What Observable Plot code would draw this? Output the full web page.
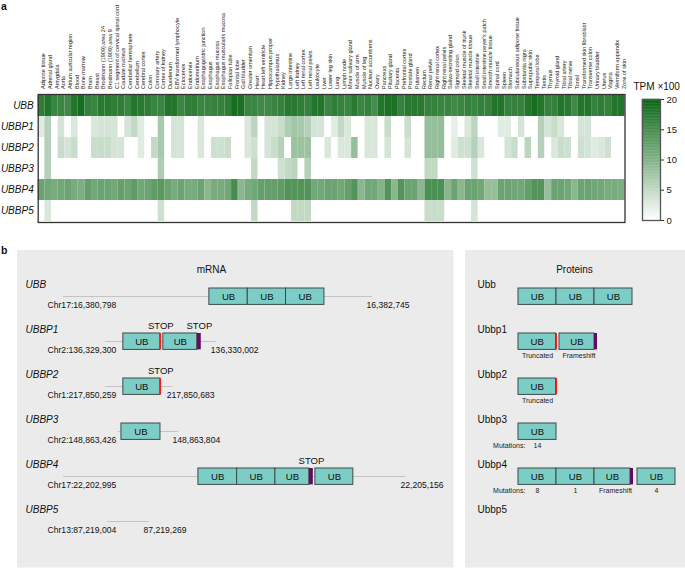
<!DOCTYPE html>
<html><head><meta charset="utf-8">
<script src="https://cdn.jsdelivr.net/npm/d3@7"></script>
<script src="https://cdn.jsdelivr.net/npm/@observablehq/plot@0.6"></script>
<style>
body{margin:0;background:#fff;}
#fig{position:relative;width:685px;height:568px;font-family:"Liberation Sans",Arial,sans-serif;overflow:hidden;background:#fff;}
#fig svg{position:absolute;}
.plab{position:absolute;font-weight:bold;font-size:10.5px;line-height:11px;color:#111;}
</style></head><body>
<div id="fig"></div>
<script>
// ---------- Panel a data ----------
const tissues = ["Adipose tissue","Adrenal gland","Amygdala","Aorta","Atrium auricular region","Blood","Bone marrow","Brain","Breast","Brodmann (1909) area 24","Brodmann (1909) area 9","C1 segment of cervical spinal cord","Caudate nucleus","Cerebellar hemisphere","Cerebellum","Cerebral cortex","Colon","Coronary artery","Cortex of kidney","Duodenum","EBV-transformed lymphocyte","Ectocervix","Endocervix","Endometrium","Esophagogastric junction","Esophagus","Esophagus mucosa","Esophagus muscularis mucosa","Fallopian tube","Frontal lobe","Gall bladder","Greater omentum","Heart","Heart left ventricle","Hippocampus proper","Hypothalamus","Kidney","Large intestine","Left kidney","Left renal cortex","Left renal pelvis","Leukocyte","Liver","Lower leg skin","Lung","Lymph node","Minor salivary gland","Muscle of arm","Muscle of leg","Nucleus accumbens","Ovary","Pancreas","Pituitary gland","Placenta","Prefrontal cortex","Prostate gland","Putamen","Rectum","Renal pelvis","Right renal cortex","Right renal pelvis","Saliva-secreting gland","Sigmoid colon","Skeletal muscle of trunk","Skeletal muscle tissue","Small intestine","Small intestine peyer's patch","Smooth muscle tissue","Spinal cord","Spleen","Stomach","Subcutaneous adipose tissue","Substantia nigra","Suprapubic skin","Temporal lobe","Testis","Thymus","Thyroid gland","Tibial artery","Tibial nerve","Tonsil","Transformed skin fibroblast","Transverse colon","Urinary bladder","Uterus","Vagina","Vermiform appendix","Zone of skin"];
const genes = ["UBB","UBBP1","UBBP2","UBBP3","UBBP4","UBBP5"];

const UBB = [17,18,16,16,15.5,18,19,16.5,16,17.5,17.5,17,17,16,18,17.5,17,16,16,18,18,16,
 17,17,16,16,16.5,16.5,17,19,18.5,16,16,15.5,15.5,16,16.5,17.5,17.5,17,16.5,18,18,16,
 17,16.5,16,17.5,16,16.5,15,18,18.5,18.5,16.5,17.5,17.5,17.5,16.5,16.5,16,16,15.5,16,16.5,16,16.5,16.5,18,18,16.5,16.5,16.5,18,19,18,16.5,16.5,18,17.5,15.5,18,18,16.5,17,16.5,18,18];
const UBBP1 = [2.5,6,0,3.5,0,3,0,0,3,3.5,3.5,3.5,0,3.5,5,2.5,0,0,7,0,3.5,3.5,
 0,0,3,0,0,0,0,0,0,3,5.5,0,3.5,3.5,4.5,6.5,7.5,7,6,3.5,3.5,0,
 2.5,5,3,0,0,3,3,0,4.5,0,0,4.5,0,0,8.5,8.5,8.5,0,2,0,3,5.5,0,0,0,2.5,2.5,0,3.5,0,0,6,3.5,4.5,3,0,0,3.5,3.5,0,0,0,0,0];
const UBBP2 = [0,6,0,4.5,3.5,4.5,0,0,4.5,4.5,4.5,3.5,3.5,0,0,2.5,0,5,7,0,3.5,3.5,
 0,0,3,0,4,4,4.5,0,0,3,4,0,3.5,4.5,6,0,8,8,8,0,0,3,
 0,3,3,8.5,0,3,3,0,3.5,0,0,3.5,0,0,8.5,8.5,8.5,0,2.5,4,4,6,3,0,0,0,3.5,4.5,0,5.5,0,6,0,3,4.5,4,0,4,3.5,2.5,3,4,0,0];
const UBBP3 = [0,6,0,0,0,0,0,0,0,0,0,0,0,0,0,0,0,0,6.5,0,0,0,
 0,0,0,0,0,0,0,0,0,0,5,0,0,0,4,5,5.5,0,6,0,0,0,
 0,0,0,0,0,0,0,0,0,0,0,0,0,0,5,5,0,0,0,0,0,4,0,0,0,0,0,0,0,0,0,0,0,0,0,0,0,0,0,0,0,0,0,0];
const UBBP4 = [12,11.5,11,11.5,12,11,10.5,12.5,11.5,12,12,11.5,12.5,12,13,11.5,12,13,13.5,12,11,12,
 11,11,12,9.5,11,11,11.5,15,9.5,11,11.5,12.5,12.5,12.5,13,14,14,14,14,11.5,11.5,12,
 12,11.5,12.5,14,9.5,11.5,11.5,10,14,9.5,14,12,12,9.5,14.5,14.5,14.5,9.5,12,9.5,12,12,11.5,8.5,8.5,12,12,11.5,11.5,12.5,14,14,8.5,12,12,11.5,9.5,12,12,11.5,11.5,11,11,10.5];
const UBBP5 = [0,3,0,0,0,0,0,0,0,0,0,0,0,0,0,0,0,0,4,0,0,0,
 0,0,0,0,0,0,0,0,0,0,5,0,0,0,0,0,5,5,5,0,0,0,
 0,0,0,0,0,0,0,0,0,0,0,0,0,0,4.5,4.5,4.5,0,0,0,0,3.5,0,0,0,0,0,0,0,0,0,0,0,0,0,0,0,0,0,0,0,0,0,0];
const seriesValues = [UBB, UBBP1, UBBP2, UBBP3, UBBP4, UBBP5];
const colorTicks = [0, 5, 10, 15, 20];
const colorTitle = "TPM ×100";

// ---------- Panel b data ----------
const chroms = ["Chr17","Chr2","Chr1","Chr2","Chr17","Chr13"];
const geneStart = [16380798,136329300,217850259,148863426,22202995,87219004];
const geneEnd   = [16382745,136330002,217850683,148863804,22205156,87219269];
const alignOffset = [0,264,264,346,0,277]; // bp shift of each locus in the schematic
// UB domains (bp, relative to locus start)
const ubDomains = [
  ["UBB",919,1161],["UBB",1161,1402],["UBB",1402,1644],
  ["UBBP1",113,346],["UBBP1",365,579],
  ["UBBP2",113,346],
  ["UBBP3",19,265],
  ["UBBP4",850,1094],["UBBP4",1094,1335],["UBBP4",1335,1549],["UBBP4",1587,1826]
];
const stopCodons = [["UBBP1",344,354],["UBBP2",344,354]];
const frameshifts = [["UBBP1",579,604],["UBBP4",1549,1574]];
const stopLabels = [["UBBP1",349],["UBBP1",592],["UBBP2",349],["UBBP4",1562]];

const proteins = ["Ubb","Ubbp1","Ubbp2","Ubbp3","Ubbp4","Ubbp5"];
// UB domains in amino acids
const protDomains = [
  ["Ubb",0,76],["Ubb",76,152],["Ubb",152,228],
  ["Ubbp1",0,75],["Ubbp1",82,152],
  ["Ubbp2",0,75],
  ["Ubbp3",0,76],
  ["Ubbp4",0,76],["Ubbp4",76,152],["Ubbp4",152,224],["Ubbp4",238,314]
];
const protTrunc = [["Ubbp1",75,78],["Ubbp2",75,78]];
const protFrame = [["Ubbp1",152,158],["Ubbp4",224,230]];
const protNotes = [
  ["Ubbp1",38,"Truncated"],["Ubbp1",121,"Frameshift"],
  ["Ubbp2",38,"Truncated"],
  ["Ubbp3",-18.5,"Mutations:"],["Ubbp3",38,"14"],
  ["Ubbp4",-18.5,"Mutations:"],["Ubbp4",38,"8"],["Ubbp4",114,"1"],["Ubbp4",194,"Frameshift"],["Ubbp4",276,"4"]
];

// ---------- build ----------
const FONT = "Liberation Sans, Arial, Helvetica, sans-serif";
const colorScale = {type:"linear", domain:[0,20], range:["#ffffff","#0a6614"], interpolate:"rgb"};
const fig = document.getElementById("fig");
function place(el, left, top){ el.style.left = left+"px"; el.style.top = top+"px"; fig.appendChild(el); }

const cells = [];
genes.forEach((g,i)=> tissues.forEach((t,j)=> cells.push({gene:g, tissue:t, value:seriesValues[i][j]})));

const heat = Plot.plot({
  width: 630, height: 224,
  marginLeft: 37.7, marginRight: 5.5, marginTop: 94, marginBottom: 2,
  x: {type:"band", domain: tissues, padding:0, axis:null},
  y: {type:"band", domain: genes, padding:0, axis:null},
  color: colorScale,
  style: {fontFamily: FONT, background:"transparent", overflow:"visible"},
  marks: [
    Plot.cell(cells, {x:"tissue", y:"gene", fill:"value"}),
    Plot.frame({stroke:"#333", strokeWidth:1.3}),
    Plot.text(tissues, {x:d=>d, frameAnchor:"top", rotate:-90, textAnchor:"start", dy:-5.5, fontSize:5.5, fill:"#222"}),
    Plot.text(genes, {y:d=>d, frameAnchor:"left", textAnchor:"end", dx:-4.5, fontSize:10, fontStyle:"italic", fill:"#111"})
  ]
});
place(heat, 0, 0);

const grad = d3.range(0, 20, 0.25);
const cb = Plot.plot({
  width: 57, height: 160,
  marginLeft: 14, marginRight: 25, marginTop: 29, marginBottom: 10,
  y: {domain:[0,20], axis:null},
  color: colorScale,
  style: {fontFamily: FONT, background:"transparent", overflow:"visible"},
  marks: [
    Plot.rect(grad, {y1:d=>d, y2:d=>d+0.25, fill:d=>d+0.125, stroke:d=>d+0.125, strokeWidth:0.4}),
    Plot.frame({stroke:"#555", strokeWidth:1.3}),
    Plot.axisY({anchor:"right", ticks:colorTicks, tickSize:3, tickPadding:3, fontSize:9.5, stroke:"#333", fill:"#222"}),
    Plot.text([colorTitle], {frameAnchor:"top-left", textAnchor:"start", dx:-9, dy:-17, fontSize:10, fill:"#111"})
  ]
});
place(cb, 628, 70);

const lines = genes.map((g,i)=>({gene:g, x1:alignOffset[i], x2:alignOffset[i]+geneEnd[i]-geneStart[i],
  startLabel:`${chroms[i]}:${d3.format(",")(geneStart[i])}`, endLabel:d3.format(",")(geneEnd[i])}));
const off = g => alignOffset[genes.indexOf(g)];
const bandY = {type:"band", domain: genes, range:[32, 32+45.6*6], padding:0, axis:null};

const mrna = Plot.plot({
  width: 436, height: 317, margin: 0,
  x: {domain:[0,2161], range:[46,389], axis:null},
  y: bandY,
  style: {fontFamily: FONT, background:"#ebebeb", overflow:"visible"},
  marks: [
    Plot.frame({fill:"#ebebeb"}),
    Plot.text(["mRNA"], {frameAnchor:"top", dx:-24, dy:15, fontSize:10, fill:"#111"}),
    Plot.text(genes, {y:d=>d, frameAnchor:"left", dx:8, dy:-21.8, textAnchor:"start", fontStyle:"italic", fontSize:10, fill:"#111"}),
    Plot.barX(lines, {x1:"x1", x2:"x2", y:"gene", fill:"#8a8a8a", insetTop:12.3, insetBottom:32.3}),
    Plot.text(lines, {y:"gene", frameAnchor:"left", dx:30, dy:-1.3, text:"startLabel", textAnchor:"start", fontSize:8.6, fill:"#111"}),
    Plot.text(lines, {x:"x2", y:"gene", dx:-6, dy:-1.3, text:"endLabel", textAnchor:"start", fontSize:8.6, fill:"#111"}),
    Plot.barX(ubDomains, {x1:d=>off(d[0])+d[1], x2:d=>off(d[0])+d[2], y:d=>d[0], fill:"#7dcdc7", stroke:"#3e4a4a", strokeWidth:1, insetTop:4, insetBottom:24.6}),
    Plot.text(ubDomains, {x:d=>off(d[0])+(d[1]+d[2])/2, y:d=>d[0], text:()=>"UB", dy:-10.3, fontSize:9.6, fill:"#111"}),
    Plot.barX(stopCodons, {x1:d=>off(d[0])+d[1], x2:d=>off(d[0])+d[2], y:d=>d[0], fill:"#ff1a1a", insetTop:4, insetBottom:24.6}),
    Plot.barX(frameshifts, {x1:d=>off(d[0])+d[1], x2:d=>off(d[0])+d[2], y:d=>d[0], fill:"#650a5e", insetTop:4, insetBottom:24.6}),
    Plot.text(stopLabels, {x:d=>off(d[0])+d[1], y:d=>d[0], text:()=>"STOP", dy:-26.3, fontSize:9.5, fill:"#111"})
  ]
});
place(mrna, 17, 250);

const bandP = {...bandY, domain: proteins};
const prot = Plot.plot({
  width: 220, height: 317, margin: 0,
  x: {domain:[0,228], range:[53,167], axis:null},
  y: bandP,
  style: {fontFamily: FONT, background:"#ebebeb", overflow:"visible"},
  marks: [
    Plot.frame({fill:"#ebebeb"}),
    Plot.text(["Proteins"], {frameAnchor:"top", dx:-1, dy:15, fontSize:10, fill:"#111"}),
    Plot.text(proteins, {y:d=>d, frameAnchor:"left", dx:12, dy:-21.8, textAnchor:"start", fontSize:10, fill:"#111"}),
    Plot.barX(protDomains, {x1:d=>d[1], x2:d=>d[2], y:d=>d[0], fill:"#7dcdc7", stroke:"#3e4a4a", strokeWidth:1, insetTop:4, insetBottom:24.6}),
    Plot.text(protDomains, {x:d=>(d[1]+d[2])/2, y:d=>d[0], text:()=>"UB", dy:-10.3, fontSize:9.6, fill:"#111"}),
    Plot.barX(protTrunc, {x1:d=>d[1], x2:d=>d[2], y:d=>d[0], fill:"#ff1a1a", insetTop:4, insetBottom:24.6}),
    Plot.barX(protFrame, {x1:d=>d[1], x2:d=>d[2], y:d=>d[0], fill:"#650a5e", insetTop:4, insetBottom:24.6}),
    Plot.text(protNotes, {x:d=>d[1], y:d=>d[0], text:d=>d[2], dy:3.7, fontSize:7, fill:"#222"})
  ]
});
place(prot, 465, 250);

const la = document.createElement("div"); la.className="plab"; la.textContent="a"; place(la, 1, 1);
const lb = document.createElement("div"); lb.className="plab"; lb.textContent="b"; place(lb, 1, 245);
</script>
</body></html>
